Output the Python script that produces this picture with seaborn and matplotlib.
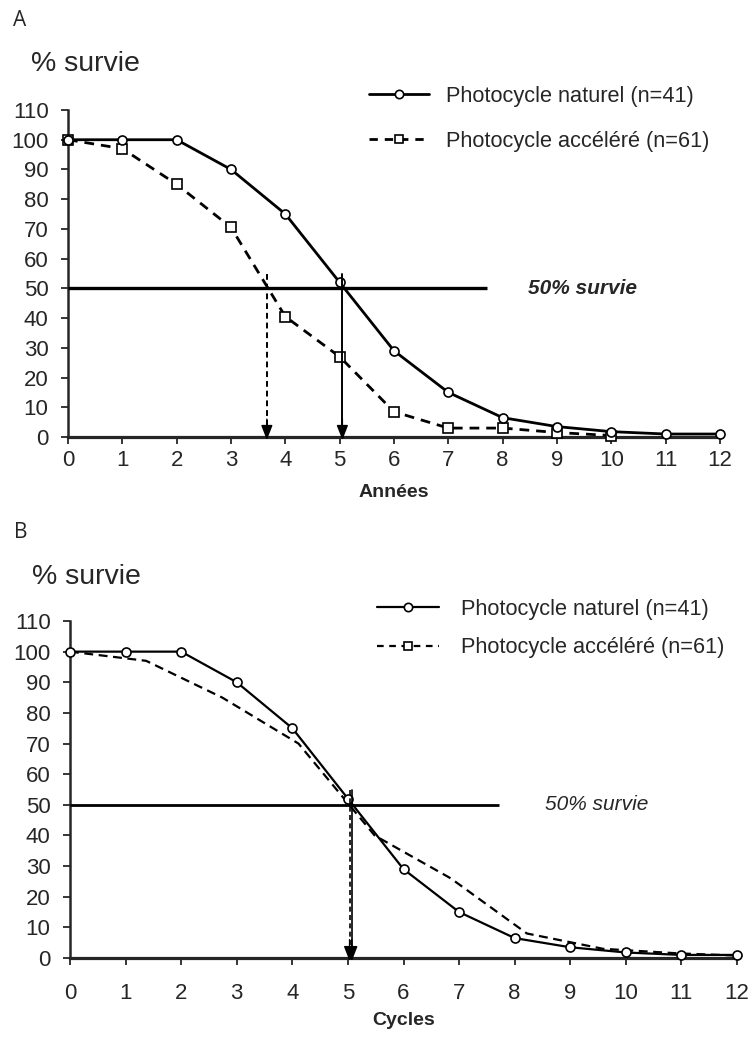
import matplotlib
matplotlib.use("Agg")
import matplotlib.pyplot as plt
from matplotlib.lines import Line2D
import seaborn as sns
import pandas as pd

# ---------------- data ----------------
years = [0, 1, 2, 3, 4, 5, 6, 7, 8, 9, 10, 11, 12]
naturel = [100, 100, 100, 90, 75, 52, 29, 15, 6.5, 3.5, 1.8, 1, 1]
accel_years = [0, 1, 2, 3, 4, 5, 6, 7, 8, 9, 10]
accel = [100, 97, 85, 70.5, 40.5, 27, 8.5, 3, 3, 1.5, 0.5]

cycles = [0, 1, 2, 3, 4, 5, 6, 7, 8, 9, 10, 11, 12]
naturel_cycles = [100, 100, 100, 90, 75, 52, 29, 15, 6.5, 3.5, 1.8, 1, 1]
accel_cycles_x = [0, 1.37, 2.74, 4.11, 5.48, 6.85, 8.22, 9.59, 10.96, 12]
accel_cycles = [100, 97, 85, 70, 40, 26, 8, 3, 1.5, 0.8]

x_ticks = list(range(0, 13))
y_ticks = list(range(0, 111, 10))
median_A_nat = 5.05
median_A_acc = 3.66
median_B_nat = 5.07
median_B_acc = 5.03
survie_level = 50
line50_end = 7.72

label_nat = "Photocycle naturel (n=41)"
label_acc = "Photocycle accéléré (n=61)"

sns.set_style("ticks")
plt.rcParams["font.family"] = ["Liberation Sans", "DejaVu Sans"]

W, H = 753, 1040
fig = plt.figure(figsize=(W / 100, H / 100), dpi=100)
fig.patch.set_facecolor("white")

def fx(px):
    return px / W

def fy(py):
    return 1 - py / H

axA = fig.add_axes([fx(68), fy(437), (720 - 68) / W, (437 - 110) / H])
axB = fig.add_axes([fx(70), fy(958), (737 - 70) / W, (958 - 621) / H])

dfA1 = pd.DataFrame({"x": years, "y": naturel})
dfA2 = pd.DataFrame({"x": accel_years, "y": accel})
dfB1 = pd.DataFrame({"x": cycles, "y": naturel_cycles})
dfB2 = pd.DataFrame({"x": accel_cycles_x, "y": accel_cycles})

# Panel A
sns.lineplot(data=dfA2, x="x", y="y", ax=axA, color="black", linestyle=(0, (3.5, 2.5)),
             linewidth=2.0, marker="s", markersize=7, markerfacecolor="white",
             markeredgecolor="black", markeredgewidth=1.2, clip_on=False, zorder=4,
             estimator=None, sort=False)
sns.lineplot(data=dfA1, x="x", y="y", ax=axA, color="black", linewidth=2.0,
             marker="o", markersize=6.5, markerfacecolor="white",
             markeredgecolor="black", markeredgewidth=1.2, clip_on=False, zorder=5,
             estimator=None, sort=False)

# Panel B
sns.lineplot(data=dfB2, x="x", y="y", ax=axB, color="black", linestyle=(0, (4, 2.5)),
             linewidth=1.6, clip_on=False, zorder=4, estimator=None, sort=False)
sns.lineplot(data=dfB1, x="x", y="y", ax=axB, color="black", linewidth=1.6,
             marker="o", markersize=6.5, markerfacecolor="white",
             markeredgecolor="black", markeredgewidth=1.2, clip_on=False, zorder=5,
             estimator=None, sort=False)

for ax, lw50 in ((axA, 2.4), (axB, 2.0)):
    ax.set_xlim(0, 12)
    ax.set_ylim(0, 110)
    ax.set_xticks(x_ticks)
    ax.set_yticks(y_ticks)
    ax.set_xlabel("")
    ax.set_ylabel("")
    sns.despine(ax=ax)
    ax.spines["left"].set_linewidth(1.8)
    ax.spines["bottom"].set_linewidth(2.3)
    ax.tick_params(axis="y", direction="out", length=5, width=1.3, labelsize=16, pad=9)
    ax.tick_params(axis="x", direction="out", length=5, width=1.3, labelsize=16)
    ax.plot([0, line50_end], [survie_level, survie_level], color="black",
            linewidth=lw50, zorder=3, solid_capstyle="butt")
    if ax.get_legend() is not None:
        ax.get_legend().remove()

axA.tick_params(axis="x", pad=4)
axB.tick_params(axis="x", pad=13)

def median_arrow(ax, x, ls, lw):
    ax.plot([x, x], [55, 4], color="black", linestyle=ls, linewidth=lw, zorder=6,
            clip_on=False)
    ax.annotate("", xy=(x, -1), xytext=(x, 6),
                arrowprops=dict(arrowstyle="-|>,head_length=0.9,head_width=0.35",
                                color="black", linewidth=1.0, shrinkA=0, shrinkB=0),
                zorder=7, annotation_clip=False)

median_arrow(axA, median_A_acc, (0, (3, 2)), 1.4)
median_arrow(axA, median_A_nat, "-", 1.4)
median_arrow(axB, median_B_acc, (0, (3, 2)), 1.2)
median_arrow(axB, median_B_nat, "-", 1.2)

axA.text(9.47, survie_level, "50% survie", fontsize=15, fontstyle="italic",
         fontweight="bold", ha="center", va="center")
axB.text(9.48, survie_level, "50% survie", fontsize=15, fontstyle="italic",
         ha="center", va="center")

axA.set_xlabel("Années", fontsize=14, fontweight="bold", labelpad=10)
axB.set_xlabel("Cycles", fontsize=14, fontweight="bold", labelpad=6)

# Panel letters and y titles
fig.text(fx(13), fy(20), "A", fontsize=15, family=["Open Sans", "DejaVu Sans"],
         ha="left", va="center")
fig.text(fx(14), fy(532), "B", fontsize=15, family=["Open Sans", "DejaVu Sans"],
         ha="left", va="center")
fig.text(fx(31), fy(64), "% survie", fontsize=20.5, ha="left", va="center")
fig.text(fx(32), fy(577), "% survie", fontsize=20.5, ha="left", va="center")

# Legends
hA = [Line2D([], [], color="black", linewidth=2.0, marker="o", markersize=6,
             markerfacecolor="white", markeredgecolor="black", markeredgewidth=1.2),
      Line2D([], [], color="black", linewidth=2.0, linestyle=(0, (3, 2.5)), marker="s",
             markersize=6, markerfacecolor="white", markeredgecolor="black",
             markeredgewidth=1.2)]
legA = axA.legend(hA, [label_nat, label_acc], loc="upper left",
                  bbox_to_anchor=(fx(369), fy(86)), bbox_transform=fig.transFigure,
                  frameon=False, fontsize=15.7, handlelength=2.75, handletextpad=0.8,
                  labelspacing=1.1, borderpad=0, borderaxespad=0, numpoints=1)
hB = [Line2D([], [], color="black", linewidth=1.6, marker="o", markersize=6,
             markerfacecolor="white", markeredgecolor="black", markeredgewidth=1.2),
      Line2D([], [], color="black", linewidth=1.6, linestyle=(0, (3, 2.5)), marker="s",
             markersize=6, markerfacecolor="white", markeredgecolor="black",
             markeredgewidth=1.2)]
legB = axB.legend(hB, [label_nat, label_acc], loc="upper left",
                  bbox_to_anchor=(fx(377), fy(599)), bbox_transform=fig.transFigure,
                  frameon=False, fontsize=15.7, handlelength=2.85, handletextpad=1.0,
                  labelspacing=0.8, borderpad=0, borderaxespad=0, numpoints=1)

fig.savefig("out.png", dpi=100, facecolor="white")
